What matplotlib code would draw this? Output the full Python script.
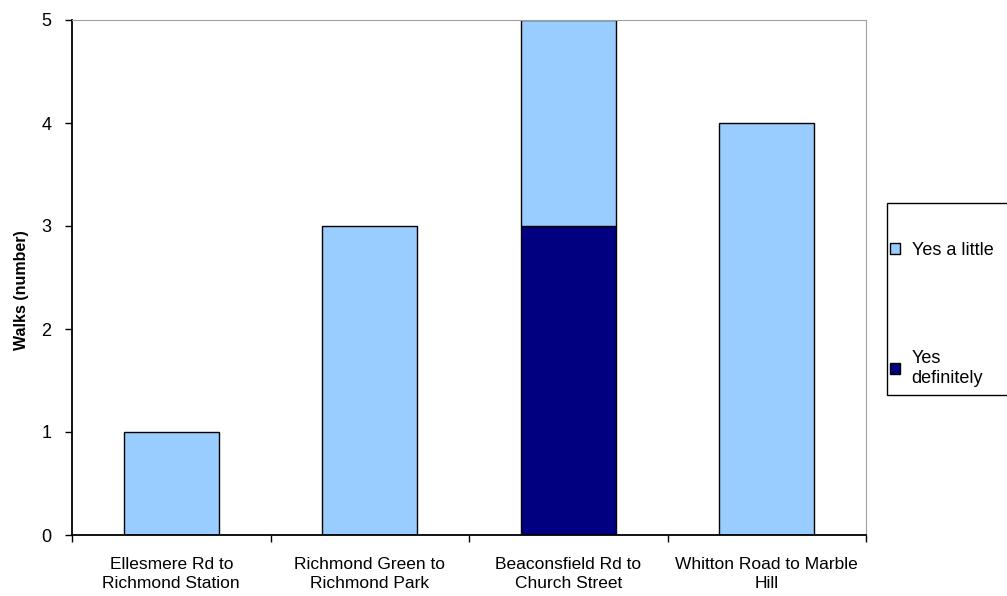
import numpy as np
import matplotlib
matplotlib.use('Agg')
import matplotlib.pyplot as plt
import matplotlib.patches as mpatches
from matplotlib.legend_handler import HandlerPatch

plt.rcParams['font.family'] = ['Liberation Sans', 'DejaVu Sans']

# data
walks = ['Ellesmere Rd to\nRichmond Station', 'Richmond Green to\nRichmond Park',
         'Beaconsfield Rd to\nChurch Street', 'Whitton Road to Marble\nHill']
yes_definitely = [0, 0, 3, 0]
yes_a_little = [1, 3, 2, 4]

light = '#99CCFF'
dark = '#000080'

fig = plt.figure(figsize=(10.07, 5.96), dpi=100)
ax = fig.add_axes([72 / 1007, 61 / 596, 794 / 1007, 515 / 596])

x = np.arange(len(walks))
b1 = ax.bar(x, yes_definitely, width=0.48, color=dark, edgecolor='black', linewidth=1,
            label='Yes\ndefinitely')
b2 = ax.bar(x, yes_a_little, width=0.48, bottom=yes_definitely, color=light,
            edgecolor='black', linewidth=1, label='Yes a little')

ax.set_xlim(-0.5, len(walks) - 0.5)
ax.set_ylim(0, 5)
ax.set_yticks(range(6))
ax.tick_params(axis='y', direction='out', length=5, width=1, labelsize=13, pad=10)

# ticks at category boundaries, labels at centres
ax.set_xticks(np.arange(-0.5, len(walks)), labels=[''] * (len(walks) + 1))
ax.set_xticks(x, labels=walks, minor=True)
ax.tick_params(axis='x', which='major', direction='out', length=5, width=1)
ax.tick_params(axis='x', which='minor', length=0, labelsize=12.5, pad=16)
for t in ax.get_xticklabels(minor=True):
    t.set_linespacing(1.3)

ax.set_ylabel('Walks (number)', fontsize=11.5, fontweight='bold')
ax.yaxis.set_label_coords(-0.054, 0.476)

for s in ['top', 'right']:
    ax.spines[s].set_color('#a0a0a0')
for s in ['left', 'bottom']:
    ax.spines[s].set_color('black')
    ax.spines[s].set_linewidth(1.3)


# legend: square sits level with the first line of a two-line label
def top_square(legend, orig_handle, xdescent, ydescent, width, height, fontsize):
    shift = 0.6 * fontsize if '\n' in orig_handle.get_label() else 0
    return mpatches.Rectangle((-xdescent, -ydescent + shift), width, height)


fig.add_artist(plt.Rectangle((887 / 1007, (596 - 395) / 596), 130 / 1007, 192 / 596,
                             transform=fig.transFigure, facecolor='white',
                             edgecolor='black', linewidth=1))
fig.legend(handles=[b2, b1], loc='upper left', bbox_to_anchor=(890 / 1007, (596 - 242) / 596),
           frameon=False, fontsize=13, handlelength=0.55, handleheight=0.55,
           handletextpad=0.65, labelspacing=5.05, borderaxespad=0, borderpad=0,
           handler_map={mpatches.Rectangle: HandlerPatch(patch_func=top_square)})

fig.savefig('out.png', dpi=100)
